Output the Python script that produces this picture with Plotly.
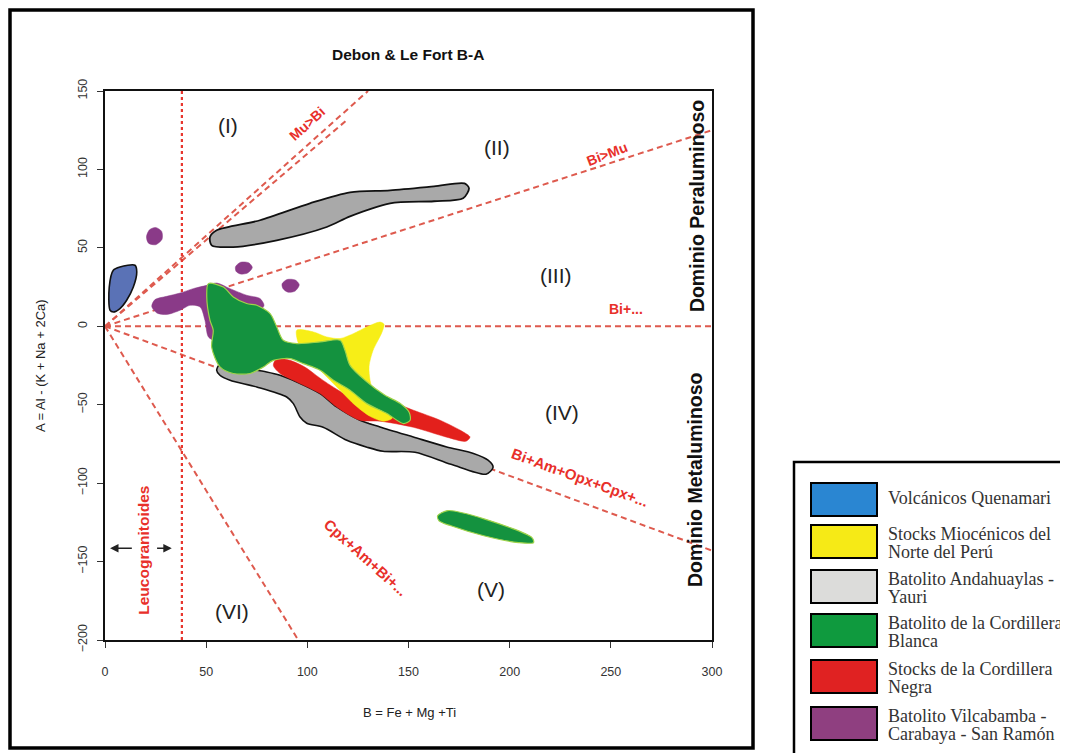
import plotly.graph_objects as go

# ---------------- axes ----------------
x_range = [0, 300]
y_range = [-200, 150]
x_ticks = [0, 50, 100, 150, 200, 250, 300]
y_ticks = [150, 100, 50, 0, -50, -100, -150, -200]

# ---------------- boundary lines (data units) ----------------
mu_bi_x = [0, 130]
mu_bi_y = [0, 150]
mu_bi2_x = [0, 120]
mu_bi2_y = [0, 132]
bi_mu_x = [0, 300]
bi_mu_y = [0, 125]
bi_x = [0, 300]
bi_y = [0, 0]
bi_am_x = [0, 300]
bi_am_y = [0, -143]
cpx_x = [0, 95.5]
cpx_y = [0, -200]
leuco_x = [38, 38]
leuco_y = [-200, 150]

# ---------------- compositional fields ----------------
purple_x = [23.1, 24.7, 30.5, 37.1, 43.6, 50.3, 55.2, 61.8, 70.0, 76.6, 78.6, 76.6, 68.4, 60.2,
            54.4, 51.1, 49.4, 47.0, 42.0, 37.1, 30.5, 25.6]
purple_y = [12.7, 17.0, 19.1, 21.2, 24.0, 26.1, 27.6, 24.0, 19.8, 17.7, 13.4, 10.2, 11.3, 5.9,
            -8.9, -6.8, 3.8, 12.3, 13.4, 10.2, 7.5, 8.5]
purple_dot1_x = [20.5, 22.0, 25.0, 28.0, 28.2, 25.0, 21.5]
purple_dot1_y = [57.0, 61.5, 63.0, 60.5, 55.5, 52.0, 53.0]
purple_dot2_x = [64.5, 67.0, 71.0, 72.8, 70.5, 67.0, 64.8]
purple_dot2_y = [38.0, 40.8, 40.5, 37.5, 34.0, 33.3, 35.0]
purple_dot3_x = [87.5, 90.0, 94.0, 96.0, 94.0, 90.5, 88.0]
purple_dot3_y = [27.0, 29.8, 29.5, 26.5, 22.5, 21.7, 24.0]

blue_x = [2.5, 2.1, 4.1, 7.4, 14.8, 15.7, 14.0, 10.7, 7.4, 4.1]
blue_y = [10.2, 25.0, 35.7, 37.8, 38.9, 34.6, 25.0, 16.6, 11.3, 9.1]

gray_up_x = [51.9, 55.2, 76.6, 101.3, 121.1, 140.9, 162.6, 177.7, 179.9, 177.0, 162.6, 140.9,
             121.1, 109.6, 84.9, 63.3, 52.7]
gray_up_y = [56.9, 61.2, 67.6, 78.4, 85.4, 86.7, 89.2, 91.1, 88.0, 81.6, 79.7, 78.4,
             70.1, 63.3, 54.8, 50.5, 51.6]

gray_low_x = [55.2, 56.8, 70.0, 79.9, 86.5, 94.8, 106.3, 114.5, 126.0, 135.9, 152.4, 168.9, 182.1,
              189.3, 191.8, 188.3, 171.0, 153.2, 137.4, 129.5, 119.5, 107.8, 99.7, 96.4, 93.1,
              89.8, 75.0, 61.8, 56.8]
gray_low_y = [-28.0, -24.2, -27.0, -29.1, -31.2, -35.5, -42.9, -51.4, -59.9, -64.2, -70.6, -76.9, -81.1,
              -85.4, -89.9, -94.3, -88.0, -80.3, -79.7, -77.1, -72.7, -64.4, -61.8, -57.8, -49.3,
              -45.1, -38.7, -34.4, -31.2]

red_x = [84.9, 91.4, 98.9, 106.3, 113.7, 121.1, 131.0, 139.3, 152.4, 165.6, 177.1, 180.4, 178.4,
         168.9, 152.4, 135.9, 126.0, 114.5, 106.3, 94.8, 86.5, 83.2]
red_y = [-20.6, -21.7, -26.1, -33.1, -39.5, -44.6, -45.9, -47.2, -53.5, -59.9, -67.4, -70.6, -73.3,
         -70.7, -64.4, -60.5, -59.9, -51.4, -42.9, -35.5, -30.1, -24.9]

yellow_x = [94.8, 103.0, 109.6, 116.2, 122.7, 129.4, 135.9, 137.9, 136.9, 132.5, 130.5, 131.0,
            133.0, 138.4, 141.9, 137.4, 131.0, 123.6, 116.2, 106.3, 98.9, 95.4]
yellow_y = [-2.5, -3.6, -6.8, -7.8, -4.7, -0.4, 2.7, 1.3, -3.8, -15.3, -25.5, -34.4,
            -43.3, -52.3, -58.6, -60.5, -57.4, -50.3, -40.8, -28.0, -18.5, -10.2]

green_x = [51.1, 58.5, 63.4, 70.0, 75.0, 81.6, 84.9, 88.1, 94.8, 106.3, 116.2, 118.6, 121.1, 128.5,
           138.4, 145.8, 150.3, 150.8, 147.5, 139.3, 129.4, 121.1, 112.9, 106.3, 98.0, 91.4,
           83.2, 78.3, 71.7, 63.4, 56.8, 52.7, 53.5, 51.9, 50.3]
green_y = [27.2, 25.0, 18.7, 14.5, 13.4, 8.1, -0.4, -8.9, -11.0, -10.0, -8.9, -15.3, -24.9, -34.4,
           -44.0, -49.1, -54.8, -59.9, -62.0, -55.6, -49.3, -40.8, -34.4, -28.0, -23.8, -20.6,
           -21.7, -25.9, -30.1, -30.1, -25.9, -13.2, -2.5, 3.8, 18.7]
green_small_x = [164.4, 169.4, 187.7, 211.0, 211.8, 204.4, 187.7, 171.0, 165.1]
green_small_y = [-120.8, -117.5, -122.9, -134.7, -137.9, -137.9, -133.7, -127.2, -124.0]

# ---------------- legend ----------------
legend_names = ["Volcánicos Quenamari", "Stocks Miocénicos del<br>Norte del Perú",
                "Batolito Andahuaylas -<br>Yauri", "Batolito de la Cordillera<br>Blanca",
                "Stocks de la Cordillera<br>Negra", "Batolito Vilcabamba -<br>Carabaya - San Ramón"]
legend_colors = ["#2a86d2", "#f6ea16", "#dcdcda", "#0f9a3e", "#e02222", "#8f3f80"]

# ---------------- text labels ----------------
region_labels = ["(I)", "(II)", "(III)", "(IV)", "(V)", "(VI)"]
region_x = [60.8, 193.8, 223.0, 226.0, 191.0, 63.0]
region_y = [128.0, 114.0, 32.5, -55.0, -168.0, -182.0]

red_labels = ["Mu>Bi", "Bi>Mu", "Bi+...", "Bi+Am+Opx+Cpx+...", "Cpx+Am+Bi+..."]
red_label_x = [99.7, 248.0, 257.5, 235.0, 129.0]
red_label_y = [129.0, 109.6, 10.8, -96.1, -147.2]
red_label_angle = [-42, -21, 0, 20, 42]
red_label_size = [14, 14, 14, 15, 15]

# ---------------- figure ----------------
OFF = 8                               # page body margin in the browser
PL, PR, PT, PB = 105, 712, 91, 640    # plot area in screen pixels
W, H = 1068, 753


def px(xp):
    return (xp - PL) / (PR - PL)


def py(yp):
    return (PB - yp) / (PB - PT)


fig = go.Figure()

LINE_RED = "#de5a4e"
TXT_RED = "#e8302a"
SANS = "Liberation Sans, Arial"


def add_line(xs, ys, dash="6px,4px", color=LINE_RED, width=2):
    fig.add_trace(go.Scatter(x=xs, y=ys, mode="lines", hoverinfo="skip",
                             line=dict(color=color, width=width, dash=dash)))


def add_field(xs, ys, fill, outline=None, width=0):
    fig.add_trace(go.Scatter(x=xs + xs[:1], y=ys + ys[:1], mode="lines", fill="toself",
                             fillcolor=fill, hoverinfo="skip",
                             line=dict(color=outline if outline else fill, width=width,
                                       shape="spline", smoothing=0.8)))


# boundary lines
add_line(mu_bi_x, mu_bi_y)
add_line(mu_bi2_x, mu_bi2_y)
add_line(bi_mu_x, bi_mu_y)
add_line(bi_x, bi_y)
add_line(bi_am_x, bi_am_y)
add_line(cpx_x, cpx_y)
add_line(leuco_x, leuco_y, dash="dot", color="#e8362e", width=2.2)

# fields
add_field(blue_x, blue_y, "#5a72b6", "#111111", 1.6)
add_field(purple_dot1_x, purple_dot1_y, "#8a3a88", None, 0.5)
add_field(purple_dot2_x, purple_dot2_y, "#8a3a88", None, 0.5)
add_field(purple_dot3_x, purple_dot3_y, "#8a3a88", None, 0.5)
add_field(purple_x, purple_y, "#8a3a88", None, 0.5)
add_field(gray_up_x, gray_up_y, "#a9a9a9", "#111111", 1.8)
add_field(gray_low_x, gray_low_y, "#a9a9a9", "#111111", 1.6)
add_field(red_x, red_y, "#e3201c", None, 0.5)
add_field(yellow_x, yellow_y, "#f7ee17", None, 0.5)
add_field(green_x, green_y, "#14923f", "#9fd34a", 1.2)
add_field(green_small_x, green_small_y, "#14923f", "#9fd34a", 1.2)

annotations = []

# region labels
for t, x, y in zip(region_labels, region_x, region_y):
    annotations.append(dict(x=x, y=y, xref="x", yref="y", text=t, showarrow=False,
                            xanchor="center", yanchor="middle",
                            font=dict(family=SANS, size=21, color="#222222")))

# red labels
for t, x, y, a, s in zip(red_labels, red_label_x, red_label_y, red_label_angle, red_label_size):
    annotations.append(dict(x=x, y=y, xref="x", yref="y", text="<b>" + t + "</b>",
                            showarrow=False, textangle=a, xanchor="center", yanchor="middle",
                            font=dict(family=SANS, size=s, color=TXT_RED)))

annotations.append(dict(x=19, y=-142.8, xref="x", yref="y", text="<b>Leucogranitoides</b>",
                        showarrow=False, textangle=-90, xanchor="center", yanchor="middle",
                        font=dict(family=SANS, size=15.5, color=TXT_RED)))

# leucogranitoides arrows
annotations.append(dict(x=2.5, y=-141.5, ax=14, ay=-141.5, xref="x", yref="y", axref="x", ayref="y",
                        text="", showarrow=True, arrowhead=2, arrowsize=1.3, arrowwidth=1.3,
                        arrowcolor="#222222"))
annotations.append(dict(x=33, y=-141.5, ax=25, ay=-141.5, xref="x", yref="y", axref="x", ayref="y",
                        text="", showarrow=True, arrowhead=2, arrowsize=1.3, arrowwidth=1.3,
                        arrowcolor="#222222"))

# domain labels
annotations.append(dict(x=292.5, y=76.5, xref="x", yref="y", text="<b>Dominio Peraluminoso</b>",
                        showarrow=False, textangle=-90, xanchor="center", yanchor="middle",
                        font=dict(family=SANS, size=19.5, color="#111111")))
annotations.append(dict(x=291.5, y=-97.5, xref="x", yref="y", text="<b>Dominio Metaluminoso</b>",
                        showarrow=False, textangle=-90, xanchor="center", yanchor="middle",
                        font=dict(family=SANS, size=19.5, color="#111111")))

# title and axis titles
annotations.append(dict(x=px(408), y=py(55), xref="paper", yref="paper",
                        text="<b>Debon &amp; Le Fort B-A</b>", showarrow=False,
                        xanchor="center", yanchor="middle",
                        font=dict(family=SANS, size=15.5, color="#111111")))
annotations.append(dict(x=px(409), y=py(712), xref="paper", yref="paper",
                        text="B = Fe + Mg +Ti", showarrow=False, xanchor="center", yanchor="middle",
                        font=dict(family=SANS, size=13, color="#222222")))
annotations.append(dict(x=px(40), y=py(366), xref="paper", yref="paper",
                        text="A = Al - (K + Na + 2Ca)", showarrow=False, textangle=-90,
                        xanchor="center", yanchor="middle",
                        font=dict(family=SANS, size=13, color="#222222")))

shapes = []
# outer frame
shapes.append(dict(type="rect", xref="paper", yref="paper", x0=px(10), x1=px(753), y0=py(10), y1=py(748),
                   line=dict(color="#000000", width=3.5), fillcolor="rgba(0,0,0,0)", layer="below"))
# legend box
shapes.append(dict(type="rect", xref="paper", yref="paper", x0=px(794), x1=px(1085), y0=py(462), y1=py(770),
                   line=dict(color="#000000", width=2.5), fillcolor="rgba(0,0,0,0)"))

row_tops = [483, 525, 570, 614, 660, 707]
for name, col, top in zip(legend_names, legend_colors, row_tops):
    shapes.append(dict(type="rect", xref="paper", yref="paper", x0=px(811), x1=px(877),
                       y0=py(top), y1=py(top + 33), line=dict(color="#000000", width=2),
                       fillcolor=col))
    lines = name.split("<br>")
    if len(lines) == 1:
        ys = [top + 15]
    else:
        ys = [top + 9, top + 27]
    for ln, yy in zip(lines, ys):
        annotations.append(dict(x=px(886), y=py(yy), xref="paper", yref="paper", text=ln,
                                showarrow=False, xanchor="left", yanchor="middle",
                                font=dict(family="Liberation Serif, Times New Roman", size=18,
                                          color="#333333")))

fig.update_layout(
    width=W, height=H, autosize=False,
    margin=dict(l=PL - OFF, r=W - (PR - OFF), t=PT - OFF, b=H - (PB - OFF), pad=0),
    paper_bgcolor="white", plot_bgcolor="white",
    showlegend=False,
    annotations=annotations,
    shapes=shapes,
    xaxis=dict(range=x_range, tickvals=x_ticks, showgrid=False, zeroline=False,
               showline=True, mirror=True, linecolor="#111111", linewidth=1.6,
               ticks="outside", ticklen=6, tickcolor="#333333", ticklabelstandoff=13,
               tickfont=dict(family=SANS, size=12.5, color="#333333")),
    yaxis=dict(range=y_range, tickvals=y_ticks, showgrid=False, zeroline=False,
               showline=True, mirror=True, linecolor="#111111", linewidth=1.6,
               ticks="outside", ticklen=6, tickcolor="#333333", tickangle=-90, ticklabelstandoff=5,
               tickfont=dict(family=SANS, size=12.5, color="#333333")),
)

fig.write_html("out.html")
